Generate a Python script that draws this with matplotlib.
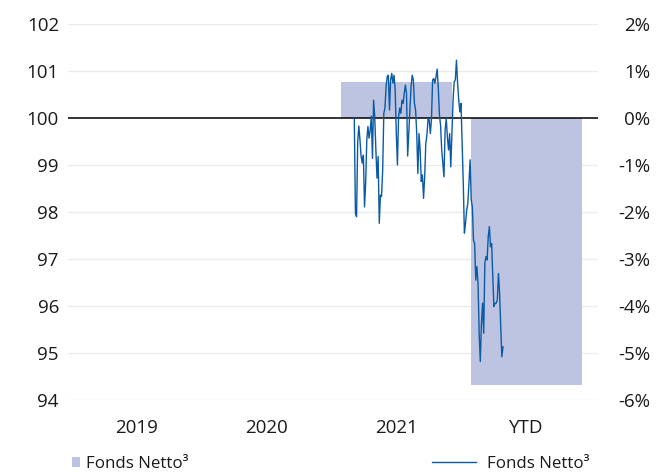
import matplotlib
matplotlib.use("Agg")
import matplotlib.pyplot as plt
import numpy as np
from matplotlib.patches import Patch
from matplotlib.lines import Line2D

plt.rcParams['font.family'] = ['Open Sans', 'DejaVu Sans']

# ---- data ----
categories = ["2019", "2020", "2021", "YTD"]
bar_values = [np.nan, np.nan, 0.76, -5.68]          # yearly performance in %
left_ticks = [94, 95, 96, 97, 98, 99, 100, 101, 102]
right_ticks = [-6, -5, -4, -3, -2, -1, 0, 1, 2]
right_labels = ["-6%", "-5%", "-4%", "-3%", "-2%", "-1%", "0%", "1%", "2%"]
legend_label = "Fonds Netto³"

# indexed fund value (daily)
line_values = [
    99.99, 97.97, 97.90, 99.50, 99.83, 99.53, 99.18, 99.04, 99.21, 98.11,
    98.61, 99.53, 99.82, 99.57, 99.74, 100.04, 99.14, 100.38, 100.03, 99.32,
    98.72, 99.18, 97.76, 98.36, 98.33, 98.89, 100.10, 100.21, 100.67, 100.88,
    100.91, 100.17, 100.81, 100.95, 100.74, 100.91,
    100.60, 99.67, 99.00, 100.03, 100.21, 100.10, 100.38, 100.31, 100.52, 100.70,
    100.52, 99.19, 99.67, 100.17, 100.67, 100.91, 100.81, 100.31, 100.17, 99.67,
    98.82, 99.67, 99.32, 98.65, 98.79, 98.29, 98.75, 99.46, 99.64, 99.99,
    99.96, 99.67, 99.99, 100.81, 100.84, 100.74, 100.88, 101.04, 100.63, 100.06,
    99.85, 99.32,
    99.04, 98.75, 99.74, 99.99, 99.60, 99.32, 99.67, 98.96, 99.67, 100.38,
    100.77, 100.81, 101.23, 100.74, 100.38, 100.13, 100.31, 99.46, 98.61, 97.55,
    97.76, 98.04, 98.18, 98.61, 99.11, 98.26, 98.11, 97.40, 97.33, 96.55,
    96.84, 96.48, 95.42, 94.82, 95.63, 96.06, 95.42, 96.91, 97.05, 96.98,
    97.48, 97.69, 97.26, 97.33, 96.62, 95.99, 96.06, 96.06, 96.13, 96.69,
    96.27, 95.56, 94.92, 95.13,
]

# ---- style ----
bar_color = "#bcc4e1"
line_color = "#0b5aa6"
text_color = "#1a1a1a"
grid_color = "#ebebeb"
fs = 13.5

W, H = 658, 472
fig = plt.figure(figsize=(W / 100, H / 100), dpi=100)
rect = [68 / W, 72 / H, 530 / W, 376 / H]

# bar axis (percent)
ax = fig.add_axes(rect)
axl = ax.twinx()

x = np.arange(len(categories))
ax.set_xlim(-0.53, 3.55)
ax.set_ylim(-6, 2)
for t in right_ticks:
    if t == 0:
        continue
    ax.axhline(t, color=grid_color, lw=1.0, zorder=0)
ax.bar(x, bar_values, width=0.85, color=bar_color, zorder=1)
ax.axhline(0, color="black", lw=1.1, zorder=2)
ax.set_xticks(x)
ax.set_xticklabels(categories)
ax.yaxis.tick_right()
ax.set_yticks(right_ticks)
ax.set_yticklabels(right_labels)
for lab in ax.get_yticklabels():
    lab.set_horizontalalignment("right")
ax.tick_params(axis="y", length=0, pad=37.5, labelsize=fs, colors=text_color)
ax.tick_params(axis="x", length=0, pad=14, labelsize=fs, colors=text_color)
for s in ax.spines.values():
    s.set_visible(False)

# left value axis
axl.set_ylim(94, 102)
axl.yaxis.tick_left()
axl.set_yticks(left_ticks)
axl.tick_params(axis="y", length=0, pad=6.5, labelsize=fs, colors=text_color)
for s in axl.spines.values():
    s.set_visible(False)

# line axis
axn = fig.add_axes(rect, frameon=False)
n = len(line_values)
idx = np.arange(n)
sc = (n - 1) / (503 - 354.3)
axn.set_xlim(-(354.3 - 68) * sc, (n - 1) + (598 - 503) * sc)
axn.set_ylim(94, 102)
axn.plot(idx, line_values, color=line_color, lw=1.0)
axn.set_xticks([])
axn.set_yticks([])

# legends
leg1 = fig.legend(handles=[Patch(facecolor=bar_color, edgecolor="none")],
                  labels=[legend_label], loc="center left",
                  bbox_to_anchor=(65 / W, 1 - 464 / H), frameon=False,
                  handlelength=0.5, handleheight=0.5, handletextpad=0.35,
                  fontsize=12.2, labelcolor=text_color, borderaxespad=0)
leg2 = fig.legend(handles=[Line2D([0], [0], color=line_color, lw=1.0)],
                  labels=[legend_label], loc="center right",
                  bbox_to_anchor=(596 / W, 1 - 464 / H), frameon=False,
                  handlelength=2.6, handletextpad=0.65,
                  fontsize=12.2, labelcolor=text_color, borderaxespad=0)

fig.savefig("out.png", dpi=100)
